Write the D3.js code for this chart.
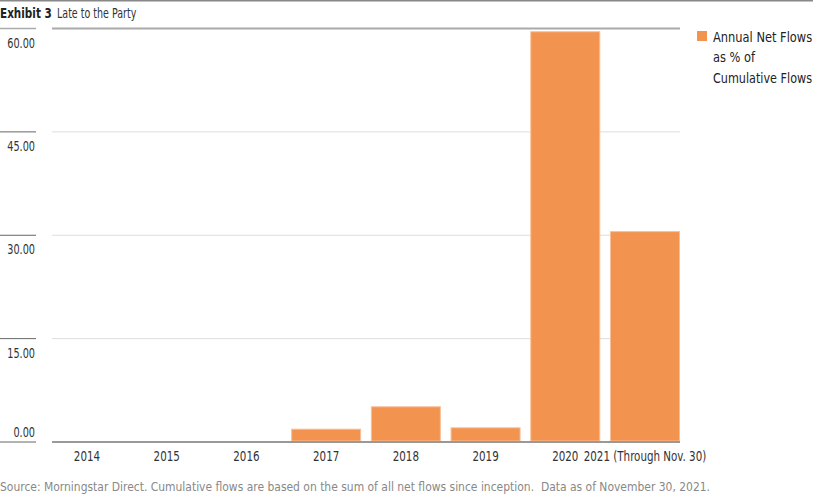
<!DOCTYPE html>
<html><head><meta charset="utf-8">
<script src="https://cdn.jsdelivr.net/npm/d3@7"></script>
<style>
body{margin:0;background:#fff;}
svg text{font-family:"DejaVu Sans Condensed","DejaVu Sans",sans-serif;}
</style></head>
<body><svg id="c" width="836" height="497"></svg>
<script>
const categories = ["2014","2015","2016","2017","2018","2019","2020","2021 (Through Nov. 30)"];
const values = [0, 0, 0, 1.93, 5.18, 2.13, 59.6, 30.6];
const yTicks = [0, 15, 30, 45, 60];
const seriesName = ["Annual Net Flows", "as % of", "Cumulative Flows"];

const svg = d3.select("#c");
const x = d3.scaleBand().domain(categories).range([52, 680]).paddingInner(0.122).paddingOuter(0);
const y = d3.scaleLinear().domain([0, 60]).range([442, 28.5]);

function txt(g, px, py, str, size, sx, opts = {}) {
  const t = g.append("text")
    .attr("transform", `translate(${px},${py}) scale(${sx},1)`)
    .attr("font-size", size).attr("fill", opts.fill || "#333")
    .attr("text-anchor", opts.anchor || "start");
  if (opts.weight) t.attr("font-weight", opts.weight);
  t.text(str);
  return t;
}

// top rule
svg.append("line").attr("x1",0).attr("x2",813).attr("y1",0.75).attr("y2",0.75).attr("stroke","#888").attr("stroke-width",1.5);
// title
txt(svg, 0, 18, "Exhibit 3", 14.5, 0.8, {weight:"bold", fill:"#222"});
txt(svg, 57, 18, "Late to the Party", 14.5, 0.73, {fill:"#333"});

// gridlines and y labels
yTicks.forEach(v => {
  const yy = y(v);
  const top = v === 60, base = v === 0;
  svg.append("line").attr("x1",0).attr("x2",36).attr("y1",yy).attr("y2",yy)
    .attr("stroke", top ? "#aaa" : (base ? "#999" : "#666")).attr("stroke-width", top||base ? 1.5 : 1);
  svg.append("line").attr("x1",52).attr("x2",680).attr("y1",yy).attr("y2",yy)
    .attr("stroke", top ? "#aaa" : (base ? "#999" : "#ddd")).attr("stroke-width", top||base ? 2 : 1);
  txt(svg, 35, base ? yy - 5 : yy + 19, d3.format(".2f")(v), 13.5, 0.8, {anchor:"end", fill:"#333"});
});

// bars
svg.append("g").selectAll("rect").data(categories.map((c,i)=>({c, v: values[i]})).filter(d=>d.v>0))
  .join("rect")
  .attr("x", d=>x(d.c)+0.5).attr("width", x.bandwidth()-1)
  .attr("y", d=>y(d.v)+0.5).attr("height", d=>y(0)-y(d.v)-1.5)
  .attr("fill","#F29350").attr("stroke","#F7BE97").attr("stroke-width",1);

// x axis baseline on top
svg.append("line").attr("x1",52).attr("x2",680).attr("y1",y(0)).attr("y2",y(0)).attr("stroke","#999").attr("stroke-width",2);

// x labels
const xa = d3.axisBottom(x).tickSize(0).tickPadding(0);
const gx = svg.append("g").attr("transform",`translate(0,${y(0)+19})`).call(xa);
gx.select(".domain").remove();
gx.selectAll("text").attr("font-size",13.5).attr("fill","#333").attr("dy",0)
  .attr("font-family",'"DejaVu Sans Condensed","DejaVu Sans",sans-serif')
  .attr("transform","scale(0.85,1)");

// legend
svg.append("rect").attr("x",697).attr("y",31).attr("width",10).attr("height",10).attr("fill","#F29350");
const legendScale = [0.878, 0.878, 0.86];
seriesName.forEach((s,i)=>{
  txt(svg, 713, 41.5 + i*20.5, s, 14.5, legendScale[i], {fill:"#222"});
});

// source
txt(svg, 0, 491, "Source: Morningstar Direct. Cumulative flows are based on the sum of all net flows since inception.  Data as of November 30, 2021.", 13, 0.92, {fill:"#888"}).style("white-space","pre");
</script></body></html>
